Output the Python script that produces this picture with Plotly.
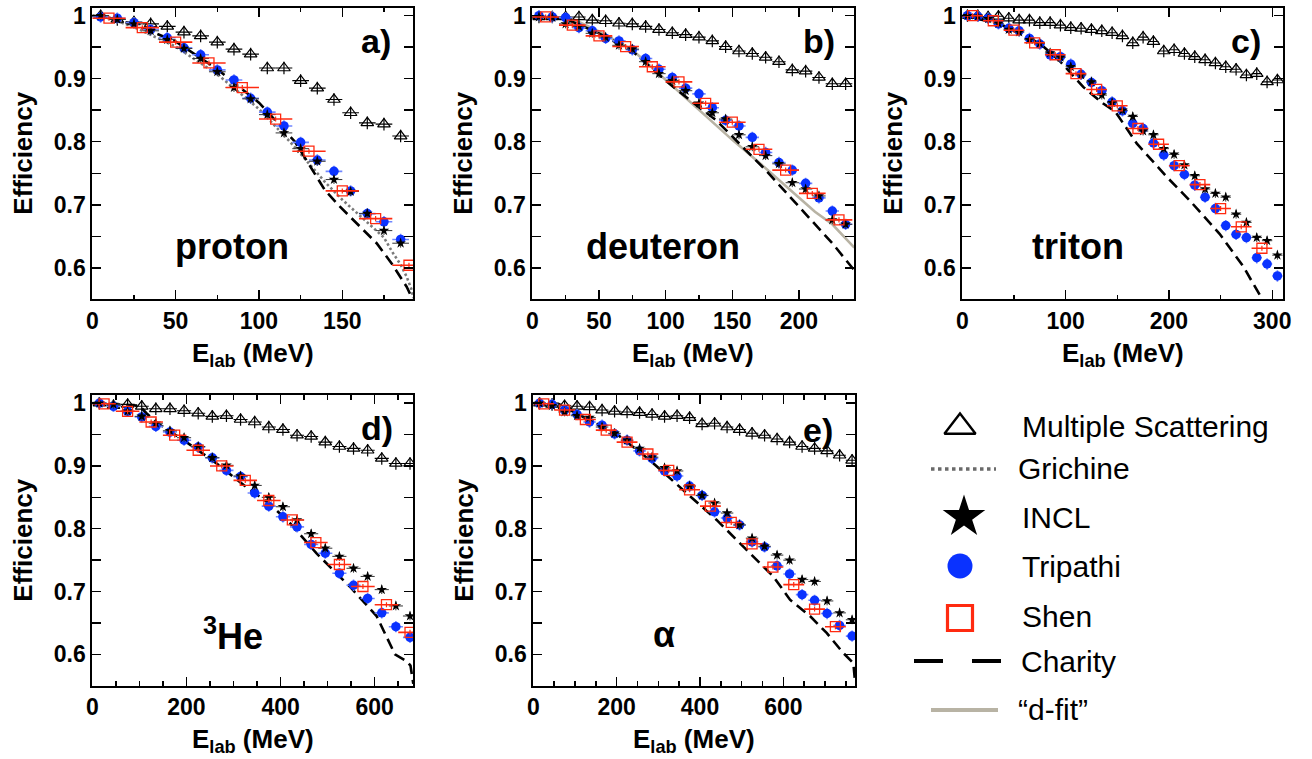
import plotly.graph_objects as go

W, H = 1312, 759

# ------------------------------------------------------------------ data
# proton (panel a)
a_E = [5, 15, 25, 35, 45, 55, 65, 75, 85, 95, 105, 115, 125, 135, 145, 155, 165, 175, 185]
a_ms = [1.000, 0.994, 0.990, 0.987, 0.983, 0.974, 0.968, 0.958, 0.947, 0.939, 0.917, 0.917,
        0.897, 0.885, 0.867, 0.846, 0.830, 0.828, 0.809]
a_trip = [0.998, 0.996, 0.989, 0.978, 0.965, 0.949, 0.938, 0.914, 0.898, 0.869, 0.847, 0.825,
          0.799, 0.771, 0.753, 0.722, 0.686, 0.673, 0.645]
a_incl = [1.000, 0.994, 0.987, 0.976, 0.962, 0.948, 0.932, 0.911, 0.886, 0.868, 0.843, 0.814,
          0.789, 0.769, 0.740, 0.721, 0.686, 0.659, 0.639]
a_shenE = [10, 30, 50, 70, 90, 110, 130, 150, 170, 190]
a_shen = [0.996, 0.981, 0.958, 0.925, 0.886, 0.836, 0.785, 0.722, 0.678, 0.604]
a_grE = [0, 10, 25, 50, 75, 100, 118.6, 140, 150, 175, 180, 185, 188.6, 191.6, 192.6]
a_gr = [1.0, 0.996, 0.982, 0.951, 0.907, 0.852, 0.80, 0.735, 0.708, 0.648, 0.625, 0.605, 0.586, 0.565, 0.552]
a_chE = [0, 10, 25, 50, 75, 100, 121.6, 139.6, 148.6, 170.6, 179.6, 188.6, 192]
a_ch = [1.0, 0.997, 0.986, 0.959, 0.915, 0.862, 0.80, 0.723, 0.697, 0.639, 0.607, 0.570, 0.551]

# deuteron (panel b)
b_E = [5, 15, 25, 35, 45, 55, 65, 75, 85, 95, 105, 115, 125, 135, 145, 155, 165, 175, 185,
       195, 205, 215, 225, 235]
b_ms = [0.998, 0.998, 0.998, 0.998, 0.993, 0.992, 0.988, 0.987, 0.983, 0.978, 0.973, 0.970,
        0.966, 0.960, 0.951, 0.944, 0.940, 0.934, 0.927, 0.914, 0.912, 0.902, 0.892, 0.892]
b_trip = [1.000, 0.998, 0.997, 0.981, 0.976, 0.964, 0.960, 0.946, 0.932, 0.915, 0.902, 0.885,
          0.876, 0.854, 0.834, 0.825, 0.807, 0.783, 0.767, 0.755, 0.734, 0.711, 0.690, 0.669]
b_incl = [0.998, 0.997, 0.987, 0.983, 0.972, 0.966, 0.953, 0.947, 0.927, 0.908, 0.897, 0.881,
          0.861, 0.846, 0.836, 0.811, 0.792, 0.778, 0.765, 0.735, 0.725, 0.714, 0.676, 0.669]
b_shenE = [10, 30, 50, 70, 90, 110, 130, 150, 170, 190, 210, 230]
b_shen = [0.998, 0.985, 0.968, 0.951, 0.919, 0.895, 0.861, 0.831, 0.788, 0.755, 0.718, 0.676]
b_chE = [0, 25, 50, 75, 100, 120, 138, 150, 175, 200, 225, 241.5]
b_ch = [0.997, 0.995, 0.972, 0.944, 0.897, 0.863, 0.834, 0.808, 0.755, 0.697, 0.639, 0.596]
b_dfE = [0, 15, 30, 50, 75, 100, 125, 150, 175, 195, 212, 225, 241.5]
b_df = [0.998, 0.998, 0.995, 0.975, 0.946, 0.898, 0.850, 0.803, 0.758, 0.721, 0.689, 0.669, 0.632]

# triton (panel c)
c_E = [5, 15, 25, 35, 45, 55, 65, 75, 85, 95, 105, 115, 125, 135, 145, 155, 165, 175, 185,
       195, 205, 215, 225, 235, 245, 255, 265, 275, 285, 295, 305]
c_ms = [1.000, 1.000, 0.998, 0.999, 0.996, 0.993, 0.993, 0.989, 0.989, 0.985, 0.981, 0.980,
        0.978, 0.976, 0.973, 0.968, 0.957, 0.966, 0.959, 0.944, 0.946, 0.940, 0.935, 0.930,
        0.925, 0.919, 0.915, 0.906, 0.908, 0.895, 0.898]
c_trip = [1.000, 0.999, 0.996, 0.987, 0.980, 0.976, 0.964, 0.955, 0.938, 0.935, 0.923, 0.907,
          0.894, 0.881, 0.863, 0.849, 0.829, 0.821, 0.798, 0.779, 0.762, 0.748, 0.731, 0.712,
          0.694, 0.667, 0.653, 0.648, 0.616, 0.606, 0.587]
c_incl = [1.000, 0.999, 0.995, 0.988, 0.978, 0.974, 0.962, 0.956, 0.941, 0.934, 0.919, 0.906,
          0.895, 0.874, 0.862, 0.850, 0.840, 0.817, 0.811, 0.789, 0.780, 0.763, 0.746, 0.725,
          0.718, 0.712, 0.685, 0.672, 0.648, 0.643, 0.620]
c_shenE = [10, 30, 50, 70, 90, 110, 130, 150, 170, 190, 210, 230, 250, 270, 290]
c_shen = [1.000, 0.992, 0.977, 0.957, 0.938, 0.908, 0.883, 0.857, 0.821, 0.796, 0.762, 0.732,
          0.694, 0.665, 0.631]
c_chE = [0, 35, 75, 95, 117, 136, 148, 169, 198, 220, 249, 272, 290]
c_ch = [1.0, 0.988, 0.956, 0.927, 0.887, 0.861, 0.848, 0.797, 0.744, 0.707, 0.654, 0.602, 0.551]

# 3He (panel d)
d_E = [15, 45, 75, 105, 135, 165, 195, 225, 255, 285, 315, 345, 375, 405, 435, 465, 495,
       525, 555, 585, 615, 645, 675]
d_ms = [1.000, 0.996, 0.998, 0.995, 0.991, 0.991, 0.988, 0.984, 0.979, 0.980, 0.974, 0.970,
        0.962, 0.958, 0.949, 0.947, 0.938, 0.931, 0.928, 0.925, 0.912, 0.904, 0.904]
d_trip = [1.000, 0.995, 0.987, 0.978, 0.963, 0.954, 0.941, 0.930, 0.913, 0.893, 0.883, 0.857,
          0.836, 0.819, 0.803, 0.775, 0.761, 0.729, 0.710, 0.689, 0.666, 0.644, 0.627]
d_incl = [1.000, 0.998, 0.987, 0.979, 0.968, 0.956, 0.945, 0.931, 0.913, 0.901, 0.884, 0.869,
          0.850, 0.835, 0.814, 0.792, 0.769, 0.756, 0.737, 0.724, 0.703, 0.677, 0.661]
d_shenE = [25, 75, 125, 175, 225, 275, 325, 375, 425, 475, 525, 575, 625, 675]
d_shen = [0.999, 0.987, 0.970, 0.949, 0.925, 0.900, 0.877, 0.845, 0.814, 0.778, 0.743, 0.708,
          0.679, 0.635]
d_chE = [0, 100, 115, 135, 200, 264, 326, 376, 420, 476, 547, 604, 643, 668, 676, 682]
d_ch = [1.0, 0.996, 0.984, 0.970, 0.938, 0.904, 0.867, 0.840, 0.809, 0.761, 0.708, 0.661,
        0.600, 0.589, 0.582, 0.553]

# alpha (panel e)
e_E = [15, 45, 75, 105, 135, 165, 195, 225, 255, 285, 315, 345, 375, 405, 435, 465, 495,
       525, 555, 585, 615, 645, 675, 705, 735, 765]
e_ms = [1.000, 0.998, 0.996, 0.995, 0.994, 0.989, 0.987, 0.986, 0.985, 0.982, 0.979, 0.980,
        0.977, 0.967, 0.968, 0.962, 0.958, 0.952, 0.949, 0.943, 0.938, 0.931, 0.928, 0.924,
        0.917, 0.909]
e_trip = [1.000, 0.998, 0.989, 0.982, 0.970, 0.965, 0.951, 0.941, 0.924, 0.912, 0.892, 0.884,
          0.868, 0.853, 0.827, 0.817, 0.806, 0.779, 0.771, 0.741, 0.728, 0.695, 0.686, 0.665,
          0.646, 0.629]
e_incl = [1.000, 0.996, 0.986, 0.980, 0.977, 0.962, 0.952, 0.941, 0.928, 0.914, 0.897, 0.892,
          0.868, 0.853, 0.841, 0.825, 0.806, 0.785, 0.772, 0.758, 0.750, 0.719, 0.716, 0.685,
          0.666, 0.655]
e_shenE = [25, 75, 125, 175, 225, 275, 325, 375, 425, 475, 525, 575, 625, 675, 725]
e_shen = [0.999, 0.989, 0.974, 0.957, 0.938, 0.919, 0.893, 0.862, 0.836, 0.810, 0.776, 0.739,
          0.711, 0.672, 0.644]
e_chE = [0, 60, 120, 200, 280, 360, 440, 520, 576, 616, 664, 704, 744, 768, 772]
e_ch = [1.0, 0.999, 0.978, 0.951, 0.909, 0.862, 0.814, 0.761, 0.724, 0.687, 0.661, 0.634,
        0.602, 0.586, 0.557]

panel_tags = ["a)", "b)", "c)", "d)", "e)"]
particles = ["proton", "deuteron", "triton", "<sup>3</sup>He", "\u03b1"]
legend_names = ["Multiple Scattering", "Grichine", "INCL", "Tripathi", "Shen", "Charity",
                "\u201cd-fit\u201d"]

# ------------------------------------------------------------------ styling
BLACK = "#000000"
BLUE = "#0a32ff"
BLUE_ERR = "#6f86ff"
RED = "#ff2a10"
GREY = "#7a7a7a"
DFIT = "#b8b3a4"
FONT = "Liberation Sans"

panels = [
    dict(E=a_E, ms=a_ms, trip=a_trip, incl=a_incl, shenE=a_shenE, shen=a_shen,
         lines=[(a_grE, a_gr, "gr"), (a_chE, a_ch, "ch")],
         box=(92.3, 413.3, 7.5, 299.3), xmax=192.6, dt=50, mdt=25, ex=5, exs=10,
         tag=(393, 41), part=(232, 247)),
    dict(E=b_E, ms=b_ms, trip=b_trip, incl=b_incl, shenE=b_shenE, shen=b_shen,
         lines=[(b_dfE, b_df, "df"), (b_chE, b_ch, "ch")],
         box=(532.3, 854.3, 7.5, 299.3), xmax=241.5, dt=50, mdt=25, ex=5, exs=10,
         tag=(837, 41), part=(663, 247)),
    dict(E=c_E, ms=c_ms, trip=c_trip, incl=c_incl, shenE=c_shenE, shen=c_shen,
         lines=[(c_chE, c_ch, "ch")],
         box=(962.3, 1283.3, 7.5, 299.3), xmax=310.7, dt=100, mdt=50, ex=5, exs=10,
         tag=(1263, 41), part=(1078, 247)),
    dict(E=d_E, ms=d_ms, trip=d_trip, incl=d_incl, shenE=d_shenE, shen=d_shen,
         lines=[(d_chE, d_ch, "ch")],
         box=(92.3, 413.3, 395.0, 685.7), xmax=682, dt=200, mdt=50, ex=15, exs=25,
         tag=(395, 428), part=(233, 634)),
    dict(E=e_E, ms=e_ms, trip=e_trip, incl=e_incl, shenE=e_shenE, shen=e_shen,
         lines=[(e_chE, e_ch, "ch")],
         box=(533.3, 855.0, 395.0, 685.7), xmax=772, dt=200, mdt=50, ex=15, exs=25,
         tag=(835, 430), part=(664, 634)),
]

line_styles = {
    "gr": dict(color=GREY, width=2.6, dash="2.5px,2.5px"),
    "ch": dict(color=BLACK, width=2.6, dash="11px,6px"),
    "df": dict(color=DFIT, width=2.6),
}

fig = go.Figure()
annotations = []
layout_axes = {}


def px(x):
    return x / W


def py(y):
    return 1 - y / H


for i, p in enumerate(panels):
    n = i + 1
    xa = "x" if n == 1 else f"x{n}"
    ya = "y" if n == 1 else f"y{n}"
    x0, x1, y0, y1 = p["box"]
    yr = [0.55, 1.013]

    common = dict(showline=True, linecolor=BLACK, linewidth=2, mirror="allticks",
                  ticks="inside", ticklen=9, tickwidth=1.5, tickcolor=BLACK,
                  showgrid=False, zeroline=False, automargin=False,
                  tickfont=dict(family=FONT, size=23, color=BLACK, weight="bold"))
    layout_axes["xaxis" if n == 1 else f"xaxis{n}"] = dict(
        common, domain=[px(x0), px(x1)], range=[0, p["xmax"]], anchor=ya,
        tick0=0, dtick=p["dt"],
        minor=dict(ticks="inside", ticklen=4.5, tickwidth=1.5, tickcolor=BLACK,
                   dtick=p["mdt"], tick0=0, showgrid=False))
    layout_axes["yaxis" if n == 1 else f"yaxis{n}"] = dict(
        common, domain=[py(y1), py(y0)], range=yr, anchor=xa,
        tick0=0, dtick=0.1,
        minor=dict(ticks="inside", ticklen=9, tickwidth=1.5, tickcolor=BLACK,
                   dtick=0.05, tick0=0, showgrid=False))

    # model curves
    for xs, ys, key in p["lines"]:
        fig.add_trace(go.Scatter(x=xs, y=ys, mode="lines", line=line_styles[key],
                                 xaxis=xa, yaxis=ya, showlegend=False, hoverinfo="skip"))
    # multiple scattering
    fig.add_trace(go.Scatter(
        x=p["E"], y=p["ms"], mode="markers", xaxis=xa, yaxis=ya, showlegend=False,
        marker=dict(symbol="triangle-up-open", size=11, color=BLACK, line=dict(width=1.2)),
        error_x=dict(type="constant", value=p["ex"], color=BLACK, thickness=1.1, width=0),
        error_y=dict(type="constant", value=0.010, color=BLACK, thickness=1.2, width=0)))
    # Tripathi
    fig.add_trace(go.Scatter(
        x=p["E"], y=p["trip"], mode="markers", xaxis=xa, yaxis=ya, showlegend=False,
        marker=dict(symbol="circle", size=9.5, color=BLUE, line=dict(width=0)),
        error_x=dict(type="constant", value=p["ex"], color=BLUE_ERR, thickness=1.6, width=0),
        error_y=dict(type="constant", value=0.009, color=BLUE_ERR, thickness=1.6, width=0)))
    # INCL
    fig.add_trace(go.Scatter(
        x=p["E"], y=p["incl"], mode="markers", xaxis=xa, yaxis=ya, showlegend=False,
        marker=dict(symbol="star", size=8, color=BLACK, line=dict(width=0)),
        error_x=dict(type="constant", value=p["ex"], color="#333333", thickness=1, width=0),
        error_y=dict(type="constant", value=0.007, color="#333333", thickness=1, width=0)))
    # Shen
    fig.add_trace(go.Scatter(
        x=p["shenE"], y=p["shen"], mode="markers", xaxis=xa, yaxis=ya, showlegend=False,
        marker=dict(symbol="square-open", size=10, color=RED, line=dict(width=1.3)),
        error_x=dict(type="constant", value=p["exs"], color=RED, thickness=1.6, width=0),
        error_y=dict(type="constant", value=0.004, color=RED, thickness=1.2, width=0)))

    # axis titles
    annotations.append(dict(x=px(x0 - 69), y=py((y0 + y1) / 2), xref="paper", yref="paper",
                            text="<b>Efficiency</b>", textangle=-90, showarrow=False,
                            xanchor="center", yanchor="middle",
                            font=dict(family=FONT, size=26, color=BLACK)))
    annotations.append(dict(x=px((x0 + x1) / 2), y=py(y1 + 55), xref="paper", yref="paper",
                            text="<b>E<sub>lab</sub> (MeV)</b>", showarrow=False,
                            xanchor="center", yanchor="middle",
                            font=dict(family=FONT, size=26, color=BLACK)))
    # panel tag and particle name
    annotations.append(dict(x=px(p["tag"][0]), y=py(p["tag"][1]), xref="paper", yref="paper",
                            text=f"<b>{panel_tags[i]}</b>", showarrow=False,
                            xanchor="right", yanchor="middle",
                            font=dict(family=FONT, size=34, color=BLACK)))
    annotations.append(dict(x=px(p["part"][0]), y=py(p["part"][1]), xref="paper", yref="paper",
                            text=f"<b>{particles[i]}</b>", showarrow=False,
                            xanchor="center", yanchor="middle",
                            font=dict(family=FONT, size=36, color=BLACK)))

# ------------------------------------------------------------------ legend (drawn key)
LX0, LY0 = 880, 380
layout_axes["xaxis6"] = dict(domain=[px(LX0), 1], range=[LX0, W], visible=False,
                             anchor="y6", fixedrange=True, automargin=False)
layout_axes["yaxis6"] = dict(domain=[0, py(LY0)], range=[H, LY0], visible=False,
                             anchor="x6", fixedrange=True, automargin=False)

row_y = [426, 469, 517, 566, 616, 661, 709]
text_x = [1020, 1016, 1020, 1020, 1020, 1019, 1016]
k = dict(xaxis="x6", yaxis="y6", showlegend=False, hoverinfo="skip")
fig.add_trace(go.Scatter(x=[960], y=[row_y[0] + 1], mode="markers",
                         marker=dict(symbol="triangle-up-open", size=27, color=BLACK,
                                     line=dict(width=2.4)), **k))
fig.add_trace(go.Scatter(x=[931, 996], y=[row_y[1], row_y[1]], mode="lines",
                         line=dict(color="#6a6a6a", width=3.5, dash="3.5px,3.5px"), **k))
fig.add_trace(go.Scatter(x=[964], y=[row_y[2]], mode="markers",
                         marker=dict(symbol="star", size=32, color=BLACK, line=dict(width=0)), **k))
fig.add_trace(go.Scatter(x=[960], y=[row_y[3]], mode="markers",
                         marker=dict(symbol="circle", size=25, color=BLUE, line=dict(width=0)), **k))
fig.add_trace(go.Scatter(x=[960], y=[row_y[4] + 2], mode="markers",
                         marker=dict(symbol="square-open", size=25, color=RED,
                                     line=dict(width=3.2)), **k))
fig.add_trace(go.Scatter(x=[914, 1001], y=[row_y[5], row_y[5]], mode="lines",
                         line=dict(color=BLACK, width=4, dash="29px,29px"), **k))
fig.add_trace(go.Scatter(x=[931, 998], y=[row_y[6] + 1, row_y[6] + 1], mode="lines",
                         line=dict(color=DFIT, width=4), **k))

for name, tx, ty in zip(legend_names, text_x, row_y):
    annotations.append(dict(x=px(tx), y=py(ty), xref="paper", yref="paper", text=name,
                            showarrow=False, xanchor="left", yanchor="middle",
                            font=dict(family=FONT, size=30, color=BLACK)))

fig.update_layout(template="none", width=W, height=H, margin=dict(l=0, r=0, t=0, b=0),
                  paper_bgcolor="white", plot_bgcolor="white",
                  font=dict(family=FONT, color=BLACK),
                  annotations=annotations, showlegend=False, **layout_axes)

fig.write_html("out.html", config={"displayModeBar": False, "staticPlot": True},
               post_script="document.body.style.margin='0';document.body.style.padding='0';")
